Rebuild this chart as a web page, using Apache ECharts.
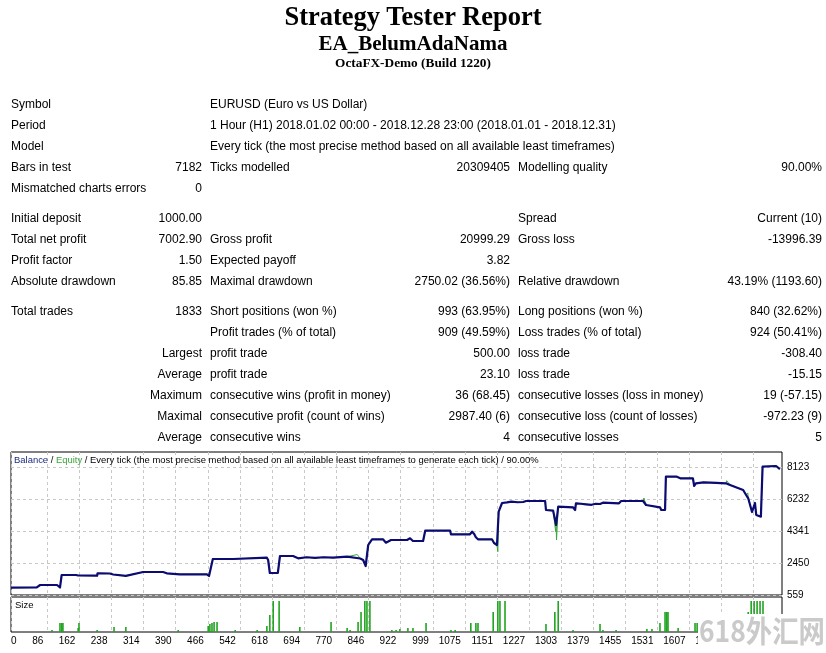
<!DOCTYPE html>
<html><head><meta charset="utf-8">
<script src="https://cdn.jsdelivr.net/npm/echarts@6/dist/echarts.min.js"></script>
<style>
html,body{margin:0;padding:0;background:#fff;width:826px;height:653px;overflow:hidden;}
#chart{position:absolute;left:0;top:0;width:826px;height:653px;}
.h{position:absolute;left:0;width:826px;text-align:center;font-family:"Liberation Serif","Times New Roman",serif;font-weight:bold;color:#000;white-space:nowrap;}
table.rep{position:absolute;left:11px;top:94px;border-collapse:collapse;table-layout:fixed;font-family:"Liberation Sans",Arial,sans-serif;font-size:12px;color:#000;}
table.rep td{padding:0;height:21px;line-height:21px;white-space:nowrap;vertical-align:middle;}
table.rep tr.sp td{height:9px;line-height:9px;}
.r{text-align:right;}
.p{padding-left:8px !important;}
</style></head><body>
<div id="chart"></div>
<div class="h" style="top:0px;font-size:26.5px;line-height:32px;">Strategy Tester Report</div>
<div class="h" style="top:30px;font-size:21px;line-height:26px;">EA_BelumAdaNama</div>
<div class="h" style="top:55px;font-size:13.3px;line-height:16px;">OctaFX-Demo (Build 1220)</div>
<table class="rep">
<colgroup><col style="width:140px"><col style="width:51px"><col style="width:208px"><col style="width:100px"><col style="width:202px"><col style="width:110px"></colgroup>
<tr><td>Symbol</td><td></td><td class="p" colspan="4">EURUSD (Euro vs US Dollar)</td></tr>
<tr><td>Period</td><td></td><td class="p" colspan="4">1 Hour (H1) 2018.01.02 00:00 - 2018.12.28 23:00 (2018.01.01 - 2018.12.31)</td></tr>
<tr><td>Model</td><td></td><td class="p" colspan="4">Every tick (the most precise method based on all available least timeframes)</td></tr>
<tr><td>Bars in test</td><td class="r">7182</td><td class="p">Ticks modelled</td><td class="r">20309405</td><td class="p">Modelling quality</td><td class="r">90.00%</td></tr>
<tr><td>Mismatched charts errors</td><td class="r">0</td><td></td><td></td><td></td><td></td></tr>
<tr class="sp"><td colspan="6"></td></tr>
<tr><td>Initial deposit</td><td class="r">1000.00</td><td></td><td></td><td class="p">Spread</td><td class="r">Current (10)</td></tr>
<tr><td>Total net profit</td><td class="r">7002.90</td><td class="p">Gross profit</td><td class="r">20999.29</td><td class="p">Gross loss</td><td class="r">-13996.39</td></tr>
<tr><td>Profit factor</td><td class="r">1.50</td><td class="p">Expected payoff</td><td class="r">3.82</td><td></td><td></td></tr>
<tr><td>Absolute drawdown</td><td class="r">85.85</td><td class="p">Maximal drawdown</td><td class="r">2750.02 (36.56%)</td><td class="p">Relative drawdown</td><td class="r">43.19% (1193.60)</td></tr>
<tr class="sp"><td colspan="6"></td></tr>
<tr><td>Total trades</td><td class="r">1833</td><td class="p">Short positions (won %)</td><td class="r">993 (63.95%)</td><td class="p">Long positions (won %)</td><td class="r">840 (32.62%)</td></tr>
<tr><td></td><td></td><td class="p">Profit trades (% of total)</td><td class="r">909 (49.59%)</td><td class="p">Loss trades (% of total)</td><td class="r">924 (50.41%)</td></tr>
<tr><td class="r" colspan="2">Largest</td><td class="p">profit trade</td><td class="r">500.00</td><td class="p">loss trade</td><td class="r">-308.40</td></tr>
<tr><td class="r" colspan="2">Average</td><td class="p">profit trade</td><td class="r">23.10</td><td class="p">loss trade</td><td class="r">-15.15</td></tr>
<tr><td class="r" colspan="2">Maximum</td><td class="p">consecutive wins (profit in money)</td><td class="r">36 (68.45)</td><td class="p">consecutive losses (loss in money)</td><td class="r">19 (-57.15)</td></tr>
<tr><td class="r" colspan="2">Maximal</td><td class="p">consecutive profit (count of wins)</td><td class="r">2987.40 (6)</td><td class="p">consecutive loss (count of losses)</td><td class="r">-972.23 (9)</td></tr>
<tr><td class="r" colspan="2">Average</td><td class="p">consecutive wins</td><td class="r">4</td><td class="p">consecutive losses</td><td class="r">5</td></tr>
</table>
<script>
// ---- data ----
const xTicks = [0,86,162,238,314,390,466,542,618,694,770,846,922,999,1075,1151,1227,1303,1379,1455,1531,1607,1683,1759];
const yTicks = [559,2450,4341,6232,8123];
// balance: [trade #, balance]
const balance = [
 [0,1000],[61,1010],[69,1150],[109,1150],[116,1000],[120,1741],[154,1741],[156,1640],[159,1710],[204,1700],
 [205,1842],[234,1830],[242,1770],[272,1690],[275,1800],[313,1918],[360,1918],[369,1842],[400,1782],[464,1782],
 [469,1682],[478,2687],[526,2687],[530,2764],[606,2764],[609,2628],[613,1860],[632,1860],[637,2864],[668,2864],
 [680,2728],[700,2790],[720,2750],[740,2790],[763,2764],[796,2823],[827,2717],[834,2628],[840,2273],[846,3514],
 [855,3851],[881,3851],[888,3650],[900,3810],[938,3810],[945,3910],[952,3750],[976,3750],[981,4359],[1040,4359],
 [1042,4146],[1087,4146],[1092,4300],[1097,4160],[1101,3969],[1106,3851],[1139,3851],[1144,3632],[1151,3514],[1155,5482],
 [1163,5996],[1175,6037],[1185,6080],[1200,6040],[1213,6055],[1220,6114],[1265,6114],[1267,5583],[1284,5541],[1291,4696],
 [1296,5778],[1331,5742],[1336,5583],[1338,5978],[1350,5950],[1362,5919],[1375,5890],[1385,5950],[1395,5937],[1402,6014],
 [1440,5978],[1445,6114],[1497,6114],[1504,5878],[1537,5742],[1540,5583],[1549,5583],[1551,7551],[1577,7551],[1585,7456],
 [1615,7456],[1618,7000],[1622,7160],[1640,7220],[1656,7196],[1670,7180],[1693,7160],[1703,7060],[1720,6900],[1734,6765],
 [1741,6469],[1746,6274],[1750,6174],[1755,5464],[1762,5996],[1765,5287],[1776,5187],[1780,8142],[1812,8183],[1821,8003]
];
// equity departures from balance: [trade #, equity]
const equityDips = [[820,2950],[1094,4400],[1153,3118],[1290,4300],[1292,3810],[1499,6290],[1695,7314],[1745,6590]];
// lot size per trade: [trade #, size]
const sizes = [
 [97,0.02],[116,0.09],[120,0.09],[123,0.09],[159,0.04],[161,0.09],[204,0.02],[244,0.05],[272,0.05],[396,0.02],
 [467,0.06],[471,0.08],[476,0.09],[481,0.1],[488,0.1],[531,0.02],[583,0.02],[606,0.06],[613,0.17],[621,0.31],
 [635,0.31],[684,0.05],[758,0.1],[796,0.04],[803,0.02],[822,0.1],[829,0.2],[838,0.31],[843,0.31],[850,0.31],
 [902,0.02],[912,0.02],[921,0.03],[940,0.04],[952,0.04],[983,0.09],[1042,0.02],[1052,0.02],[1089,0.09],[1101,0.09],
 [1106,0.09],[1142,0.2],[1153,0.31],[1158,0.31],[1170,0.31],[1267,0.08],[1288,0.2],[1296,0.31],[1331,0.02],[1395,0.08],
 [1402,0.02],[1433,0.02],[1506,0.03],[1518,0.03],[1537,0.09],[1549,0.2],[1553,0.2],[1556,0.2],[1580,0.04],[1620,0.09],
 [1625,0.09],[1738,0.05],[1746,0.2],[1753,0.31],[1760,0.31],[1767,0.31],[1774,0.31],[1781,0.31]
];
const caption = 'Every tick (the most precise method based on all available least timeframes to generate each tick) / 90.00%';
const watermark = '618外汇网';

const equity = balance.concat(equityDips).sort((a, b) => a[0] - b[0]);
const plain = v => String(v);

const dash = { color: '#c8c8c8', type: [3, 3], width: 1 };
const chart = echarts.init(document.getElementById('chart'), null, { renderer: 'canvas' });
chart.setOption({
  animation: false,
  backgroundColor: 'transparent',
  textStyle: { fontFamily: 'Liberation Sans, Arial, sans-serif' },
  title: [
    { text: '{b|Balance} / {e|Equity} / ' + caption, left: 14, top: 456, padding: 0,
      textStyle: { fontSize: 9.45, fontWeight: 'normal', color: '#000',
        rich: { b: { color: '#1c2a80', fontSize: 9.45 }, e: { color: '#3aa53a', fontSize: 9.45 } } } },
    { text: 'Size', left: 15, top: 600, padding: 0, textStyle: { fontSize: 9.5, fontWeight: 'normal', color: '#000' } }
  ],
  grid: [
    { left: 11, top: 452, width: 771, height: 143, show: true, borderColor: '#000', borderWidth: 1, backgroundColor: '#fff' },
    { left: 11, top: 597, width: 771, height: 35, show: true, borderColor: '#000', borderWidth: 1, backgroundColor: '#fff' }
  ],
  xAxis: [
    { type: 'value', gridIndex: 0, min: 0, max: 1826, axisLine: { show: false },
      axisTick: { show: false, customValues: xTicks }, axisLabel: { show: false },
      splitLine: { show: true, lineStyle: dash } },
    { type: 'value', gridIndex: 1, min: 0, max: 1826, axisLine: { show: false },
      axisTick: { show: false, customValues: xTicks },
      axisLabel: { show: true, customValues: xTicks, formatter: plain, fontSize: 10, color: '#000', margin: 4,
        align: 'right', alignMinLabel: 'left', padding: [0, 4, 0, 0] },
      splitLine: { show: true, lineStyle: dash } }
  ],
  yAxis: [
    { type: 'value', gridIndex: 0, position: 'right', min: 559, max: 9010, axisLine: { show: false },
      axisTick: { show: false, customValues: yTicks },
      axisLabel: { show: true, customValues: yTicks, formatter: plain, fontSize: 10, color: '#000', margin: 5 },
      splitLine: { show: true, lineStyle: dash } },
    { type: 'value', gridIndex: 1, min: 0, max: 0.35, show: false, splitLine: { show: false } }
  ],
  series: [
    { name: 'Equity', type: 'line', xAxisIndex: 0, yAxisIndex: 0, data: equity, showSymbol: false, z: 2,
      lineStyle: { color: '#3aa53a', width: 1 } },
    { name: 'Balance', type: 'line', xAxisIndex: 0, yAxisIndex: 0, data: balance, showSymbol: false, z: 3,
      lineStyle: { color: '#0b0b72', width: 2.2, join: 'round' } },
    { name: 'Size', type: 'bar', xAxisIndex: 1, yAxisIndex: 1, data: sizes, barWidth: 1.6,
      itemStyle: { color: '#22a322' } }
  ],
  graphic: [
    { type: 'rect', left: 698, top: 614, shape: { width: 128, height: 39 }, style: { fill: '#fff' }, z: 100 },
    { type: 'text', left: 699, top: 616, z: 101, scaleX: 0.88,
      style: { text: watermark, fill: '#cacaca', font: 'bold 30px "Noto Sans CJK SC", sans-serif' } }
  ]
});
</script>
</body></html>
